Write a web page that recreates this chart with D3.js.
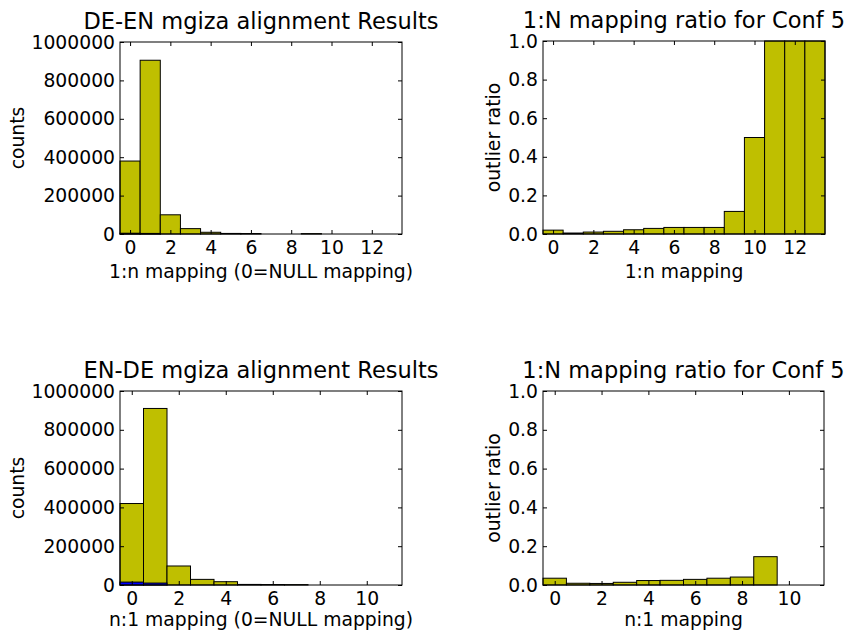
<!DOCTYPE html>
<html>
<head>
<meta charset="utf-8">
<script src="https://cdn.jsdelivr.net/npm/d3@7/dist/d3.min.js"></script>
<style>
  html, body { margin: 0; padding: 0; background: #fff; }
  svg { display: block; font-family: "DejaVu Sans", sans-serif; }
</style>
</head>
<body>
<svg id="chart" width="847" height="633"></svg>
<script>
// ---------------- data ----------------
const binsTop = [0,1,2,3,4,5,6,7,8,9,10,11,12,13];
const binsBottom = [0,1,2,3,4,5,6,7,8,9,10,11];

const deEnCounts  = [380000, 905000, 100000, 28000, 9000, 3000, 2500, 0, 0, 2000, 0, 0, 0, 0];
const deEnOutlier = [4000, 3000, 0, 0, 0, 0, 0, 0, 0, 0, 0, 0, 0, 0];
const deEnRatio   = [0.020, 0.005, 0.010, 0.014, 0.022, 0.029, 0.034, 0.034, 0.034, 0.117, 0.50, 1.0, 1.0, 1.0];

const enDeCounts  = [420000, 910000, 98000, 29000, 17000, 3000, 2500, 2000, 0, 0, 0, 0];
const enDeOutlier = [15000, 10000, 0, 0, 0, 0, 0, 0, 0, 0, 0, 0];
const enDeRatio   = [0.035, 0.009, 0.008, 0.014, 0.023, 0.024, 0.029, 0.035, 0.041, 0.146, 0, 0];

const countTicks = [0, 200000, 400000, 600000, 800000, 1000000];
const ratioTicks = [0.0, 0.2, 0.4, 0.6, 0.8, 1.0];
const xTicksTop = [0, 2, 4, 6, 8, 10, 12];
const xTicksBottom = [0, 2, 4, 6, 8, 10];

const titles = ["DE-EN mgiza alignment Results", "1:N mapping ratio for Conf 5",
                "EN-DE mgiza alignment Results", "1:N mapping ratio for Conf 5"];
const xLabels = ["1:n mapping (0=NULL mapping)", "1:n mapping",
                 "n:1 mapping (0=NULL mapping)", "n:1 mapping"];
const yLabels = ["counts", "outlier ratio", "counts", "outlier ratio"];

// ---------------- layout ----------------
const panels = [
  {x0:120, x1:402, y0:42, y1:234, bins:binsTop, series:[deEnCounts, deEnOutlier], yMax:1000000,
   yTicks:countTicks, xTicks:xTicksTop, fmt:d3.format("d"), title:titles[0], xl:xLabels[0], yl:yLabels[0], ylx:24, xlOff:44},
  {x0:543, x1:825, y0:41, y1:234, bins:binsTop, series:[deEnRatio], yMax:1.0,
   yTicks:ratioTicks, xTicks:xTicksTop, fmt:d3.format(".1f"), title:titles[1], xl:xLabels[1], yl:yLabels[1], ylx:500, xlOff:44},
  {x0:120, x1:402, y0:391, y1:585, bins:binsBottom, series:[enDeCounts, enDeOutlier], yMax:1000000,
   yTicks:countTicks, xTicks:xTicksBottom, fmt:d3.format("d"), title:titles[2], xl:xLabels[2], yl:yLabels[2], ylx:24, xlOff:41},
  {x0:543, x1:824, y0:391, y1:585, bins:binsBottom, series:[enDeRatio], yMax:1.0,
   yTicks:ratioTicks, xTicks:xTicksBottom, fmt:d3.format(".1f"), title:titles[3], xl:xLabels[3], yl:yLabels[3], ylx:500, xlOff:41}
];

const colors = ["#bfbf00", "#0000ff"];
const FS = 18.75;
const TFS = 22.5;
const svg = d3.select("#chart");

panels.forEach(p => {
  const n = p.bins.length;
  const x = d3.scaleLinear().domain([-0.5, n - 0.5]).range([p.x0, p.x1]);
  const y = d3.scaleLinear().domain([0, p.yMax]).range([p.y1, p.y0]);
  const g = svg.append("g");

  // bars
  p.series.forEach((vals, si) => {
    g.append("g").selectAll("rect").data(p.bins).join("rect")
      .attr("x", d => x(d - 0.5))
      .attr("width", d => x(d + 0.5) - x(d - 0.5))
      .attr("y", (d, i) => y(vals[i]))
      .attr("height", (d, i) => y(0) - y(vals[i]))
      .attr("fill", colors[si])
      .attr("stroke", "#000")
      .attr("stroke-width", 1);
  });

  // axes with inward ticks
  const styleAxis = sel => {
    sel.select(".domain").remove();
    sel.selectAll("line").attr("stroke", "#000").attr("stroke-width", 1);
    sel.selectAll("text").attr("font-size", FS).attr("font-family", "DejaVu Sans").attr("fill", "#000");
  };
  g.append("g").attr("transform", `translate(0,${p.y1})`)
    .call(d3.axisBottom(x).tickValues(p.xTicks).tickFormat(d3.format("d")).tickSizeInner(-4).tickSizeOuter(0).tickPadding(7))
    .call(styleAxis);
  g.append("g").attr("transform", `translate(0,${p.y0})`)
    .call(d3.axisTop(x).tickValues(p.xTicks).tickFormat("").tickSizeInner(-4).tickSizeOuter(0))
    .call(styleAxis);
  g.append("g").attr("transform", `translate(${p.x0},0)`)
    .call(d3.axisLeft(y).tickValues(p.yTicks).tickFormat(p.fmt).tickSizeInner(-4).tickSizeOuter(0).tickPadding(5))
    .call(styleAxis);
  g.append("g").attr("transform", `translate(${p.x1},0)`)
    .call(d3.axisRight(y).tickValues(p.yTicks).tickFormat("").tickSizeInner(-4).tickSizeOuter(0))
    .call(styleAxis);

  // frame
  g.append("rect").attr("x", p.x0).attr("y", p.y0)
    .attr("width", p.x1 - p.x0).attr("height", p.y1 - p.y0)
    .attr("fill", "none").attr("stroke", "#000").attr("stroke-width", 1);

  // title
  g.append("text").attr("x", (p.x0 + p.x1) / 2).attr("y", p.y0 - 13.5)
    .attr("text-anchor", "middle").attr("font-size", TFS).attr("fill", "#000").text(p.title);
  // x label
  g.append("text").attr("x", (p.x0 + p.x1) / 2).attr("y", p.y1 + p.xlOff)
    .attr("text-anchor", "middle").attr("font-size", FS).attr("fill", "#000").text(p.xl);
  // y label
  g.append("text")
    .attr("transform", `translate(${p.ylx},${(p.y0 + p.y1) / 2}) rotate(-90)`)
    .attr("text-anchor", "middle").attr("font-size", FS).attr("fill", "#000").text(p.yl);
});
</script>
</body>
</html>
